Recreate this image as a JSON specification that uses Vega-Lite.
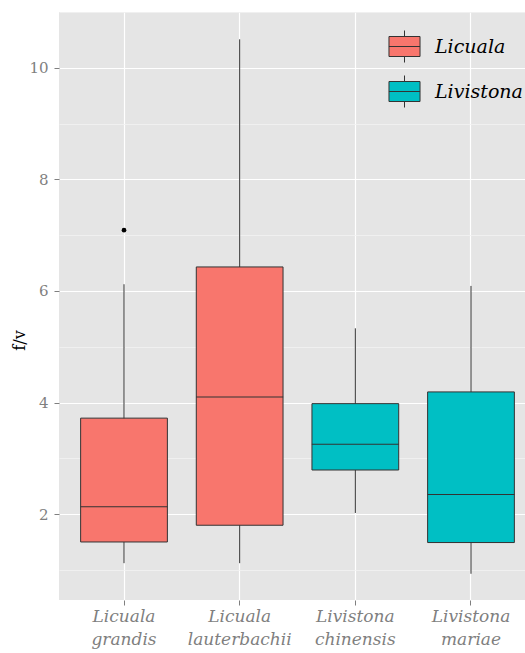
{
  "$schema": "https://vega.github.io/schema/vega-lite/v6.json",
  "autosize": "none",
  "width": 466,
  "height": 588,
  "padding": {"left": 59, "top": 12, "right": 0, "bottom": 53},
  "background": "white",
  "config": {
    "font": "DejaVu Serif",
    "view": {"fill": "#E5E5E5", "stroke": null}
  },
  "datasets": {
    "boxes": [
      {"species": "Licuala grandis", "genus": "Licuala", "lower": 1.12, "q1": 1.50, "median": 2.13, "q3": 3.72, "upper": 6.12},
      {"species": "Licuala lauterbachii", "genus": "Licuala", "lower": 1.12, "q1": 1.80, "median": 4.10, "q3": 6.43, "upper": 10.51},
      {"species": "Livistona chinensis", "genus": "Livistona", "lower": 2.02, "q1": 2.79, "median": 3.25, "q3": 3.98, "upper": 5.33},
      {"species": "Livistona mariae", "genus": "Livistona", "lower": 0.93, "q1": 1.49, "median": 2.35, "q3": 4.19, "upper": 6.09}
    ],
    "outliers": [
      {"species": "Licuala grandis", "genus": "Licuala", "value": 7.09}
    ]
  },
  "data": {"name": "boxes"},
  "encoding": {
    "x": {
      "field": "species",
      "type": "nominal",
      "sort": ["Licuala grandis", "Licuala lauterbachii", "Livistona chinensis", "Livistona mariae"],
      "scale": {"range": [0, 477], "paddingInner": 0.25, "paddingOuter": 0.187},
      "axis": {
        "title": null,
        "domain": false,
        "grid": true,
        "gridColor": "white",
        "gridWidth": 1.2,
        "labelExpr": "split(datum.label, ' ')",
        "labelFont": "DejaVu Serif",
        "labelFontStyle": "italic",
        "labelFontSize": 17,
        "labelLineHeight": 23,
        "labelColor": "#7F7F7F",
        "labelAngle": 0,
        "labelPadding": 3,
        "tickColor": "#7F7F7F",
        "tickSize": 5
      }
    }
  },
  "layer": [
    {
      "mark": {"type": "rule", "color": "#333333", "strokeWidth": 1},
      "encoding": {
        "y": {
          "field": "lower",
          "type": "quantitative",
          "scale": {"domain": [0.46, 11.0], "nice": false, "zero": false},
          "axis": {
            "values": [1, 2, 3, 4, 5, 6, 7, 8, 9, 10, 11],
            "labelExpr": "datum.value % 2 == 0 ? format(datum.value, 'd') : ''",
            "domain": false,
            "grid": true,
            "gridColor": {"condition": {"test": "datum.value % 2 == 1", "value": "#F2F2F2"}, "value": "white"},
            "gridWidth": {"condition": {"test": "datum.value % 2 == 1", "value": 0.8}, "value": 1.2},
            "tickOpacity": {"condition": {"test": "datum.value % 2 == 1", "value": 0}, "value": 1},
            "tickColor": "#7F7F7F",
            "tickSize": 5,
            "labelFont": "DejaVu Serif",
            "labelFontSize": 15,
            "labelColor": "#7F7F7F",
            "labelPadding": 6,
            "title": "f/v",
            "titleFont": "DejaVu Serif",
            "titleFontSize": 16,
            "titleFontWeight": "normal",
            "titleColor": "black",
            "titleX": -40,
            "titleY": 328,
            "titleAngle": 270,
            "titleAlign": "center",
            "titleBaseline": "middle"
          }
        },
        "y2": {"field": "upper"}
      }
    },
    {
      "mark": {"type": "bar", "stroke": "#333333", "strokeWidth": 1},
      "encoding": {
        "y": {"field": "q1", "type": "quantitative"},
        "y2": {"field": "q3"},
        "fill": {
          "field": "genus",
          "type": "nominal",
          "scale": {"domain": ["Licuala", "Livistona"], "range": ["#F8766D", "#00BFC4"]},
          "legend": {
            "title": null,
            "orient": "none",
            "legendX": 329,
            "legendY": 18,
            "symbolType": "M-0.97,-0.625H0.97V0.625H-0.97Z M-0.97,0H0.97 M0,-0.625V-1 M0,0.625V1",
            "symbolSize": 1024,
            "symbolStrokeColor": "#333333",
            "symbolStrokeWidth": 1,
            "symbolOpacity": 1,
            "labelFont": "DejaVu Serif",
            "labelFontStyle": "italic",
            "labelFontSize": 19,
            "labelColor": "black",
            "labelOffset": 14,
            "rowPadding": 8
          }
        }
      }
    },
    {
      "mark": {"type": "tick", "color": "#333333", "thickness": 1, "size": 87, "opacity": 1},
      "encoding": {
        "y": {"field": "median", "type": "quantitative"}
      }
    },
    {
      "data": {"name": "outliers"},
      "mark": {"type": "point", "filled": true, "color": "black", "size": 22, "opacity": 1},
      "encoding": {
        "y": {"field": "value", "type": "quantitative"}
      }
    }
  ]
}
